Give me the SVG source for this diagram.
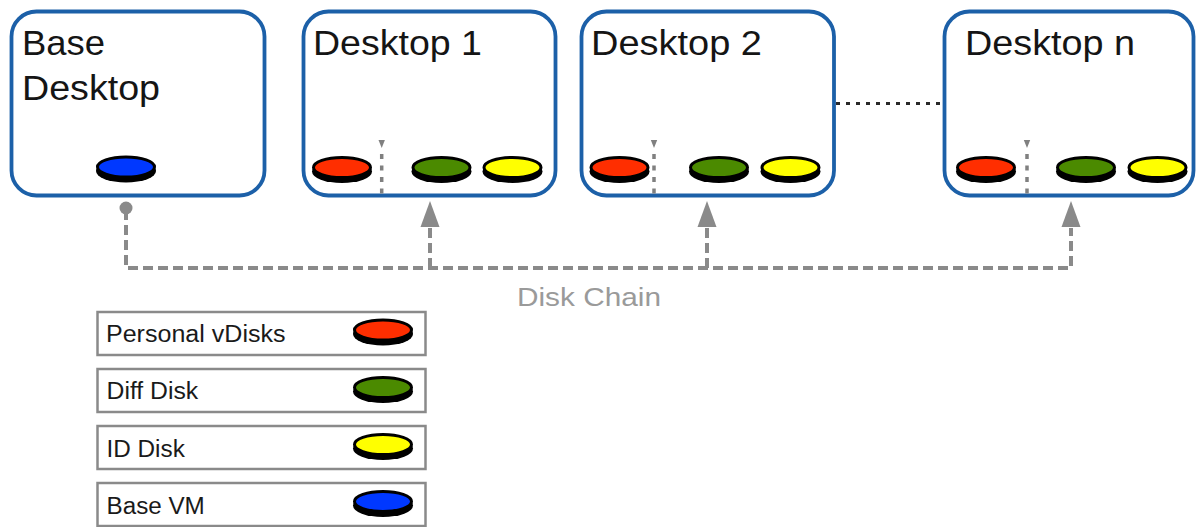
<svg xmlns="http://www.w3.org/2000/svg" xmlns:xlink="http://www.w3.org/1999/xlink" width="1197" height="527" viewBox="0 0 1197 527">
<style>
  .box { fill: #ffffff; stroke: #1c60a8; stroke-width: 3.8; }
  .title { font-family: "Liberation Sans", Arial, sans-serif; font-size: 34.5px; fill: #151515; }
  .legend-box { fill: #ffffff; stroke: #8a8a8a; stroke-width: 2.5; }
  .legend-text { font-family: "Liberation Sans", Arial, sans-serif; font-size: 23px; fill: #1a1a1a; }
  .chain-label { font-family: "Liberation Sans", Arial, sans-serif; font-size: 26px; fill: #9a9a9a; }
  .shadow { fill: #000000; }
  .disk { stroke: #000000; stroke-width: 3; }
  .red { fill: #ff2e00; }
  .green { fill: #4b8a00; }
  .yellow { fill: #ffff00; }
  .blue { fill: #0038ff; }
  .sep { stroke: #808080; stroke-width: 3.5; stroke-dasharray: 5 6.5; fill: none; }
  .chain { stroke: #8a8a8a; stroke-width: 4; stroke-dasharray: 10 5; fill: none; }
  .arrowhead { fill: #8a8a8a; }
  .dots { stroke: #2a2a2a; stroke-width: 3; stroke-dasharray: 4 6; fill: none; }
</style>
<defs>
  <g id="diskShape">
    <ellipse class="shadow" cx="0" cy="4" rx="30" ry="11.5"/>
  </g>
</defs>

<g id="connectors">
  <line class="dots" x1="836" y1="103.5" x2="943" y2="103.5"/>
  <circle cx="126" cy="208" r="6.5" fill="#8a8a8a"/>
  <path class="chain" d="M126 210 V268 H1071 V228"/>
  <line class="chain" x1="430" y1="268" x2="430" y2="228"/>
  <line class="chain" x1="707" y1="268" x2="707" y2="228"/>
  <polygon class="arrowhead" points="430,201 420.5,227 439.5,227"/>
  <polygon class="arrowhead" points="707,201 697.5,227 716.5,227"/>
  <polygon class="arrowhead" points="1071,201 1061.5,227 1080.5,227"/>
  <text class="chain-label" x="517" y="306" textLength="144" lengthAdjust="spacingAndGlyphs">Disk Chain</text>
</g>

<g id="base-desktop">
  <rect class="box" x="11.5" y="11.5" width="253" height="184" rx="25" ry="25"/>
  <text class="title" x="22" y="55" textLength="83" lengthAdjust="spacingAndGlyphs">Base</text>
  <text class="title" x="22" y="100" textLength="138" lengthAdjust="spacingAndGlyphs">Desktop</text>
  <use xlink:href="#diskShape" x="126" y="167"/>
  <ellipse class="disk blue" cx="126" cy="167" rx="28.5" ry="10"/>
</g>

<g id="desktop-1">
  <rect class="box" x="303.5" y="11.5" width="252" height="184" rx="25" ry="25"/>
  <text class="title" x="313" y="55" textLength="169" lengthAdjust="spacingAndGlyphs">Desktop 1</text>
  <use xlink:href="#diskShape" x="342" y="167.5"/>
  <ellipse class="disk red" cx="342" cy="167.5" rx="28.5" ry="10"/>
  <polygon points="378.5,140 384.9,140 381.7,148" fill="#808080"/>
  <line class="sep" x1="381.7" y1="154" x2="381.7" y2="196"/>
  <use xlink:href="#diskShape" x="441.5" y="167.5"/>
  <ellipse class="disk green" cx="441.5" cy="167.5" rx="28.5" ry="10"/>
  <use xlink:href="#diskShape" x="512.5" y="167.5"/>
  <ellipse class="disk yellow" cx="512.5" cy="167.5" rx="28.5" ry="10"/>
</g>

<g id="desktop-2">
  <rect class="box" x="581.5" y="11.5" width="252.5" height="184" rx="25" ry="25"/>
  <text class="title" x="591" y="55" textLength="171" lengthAdjust="spacingAndGlyphs">Desktop 2</text>
  <use xlink:href="#diskShape" x="619.5" y="167.5"/>
  <ellipse class="disk red" cx="619.5" cy="167.5" rx="28.5" ry="10"/>
  <polygon points="650.8,140 657.2,140 654,148" fill="#808080"/>
  <line class="sep" x1="654" y1="154" x2="654" y2="196"/>
  <use xlink:href="#diskShape" x="719" y="167.5"/>
  <ellipse class="disk green" cx="719" cy="167.5" rx="28.5" ry="10"/>
  <use xlink:href="#diskShape" x="790.5" y="167.5"/>
  <ellipse class="disk yellow" cx="790.5" cy="167.5" rx="28.5" ry="10"/>
</g>

<g id="desktop-n">
  <rect class="box" x="944.5" y="11.5" width="249" height="184" rx="25" ry="25"/>
  <text class="title" x="965" y="55" textLength="170" lengthAdjust="spacingAndGlyphs">Desktop n</text>
  <use xlink:href="#diskShape" x="986" y="167.5"/>
  <ellipse class="disk red" cx="986" cy="167.5" rx="28.5" ry="10"/>
  <polygon points="1023.8,140 1030.2,140 1027,148" fill="#808080"/>
  <line class="sep" x1="1027" y1="154" x2="1027" y2="196"/>
  <use xlink:href="#diskShape" x="1086" y="167.5"/>
  <ellipse class="disk green" cx="1086" cy="167.5" rx="28.5" ry="10"/>
  <use xlink:href="#diskShape" x="1157.5" y="167.5"/>
  <ellipse class="disk yellow" cx="1157.5" cy="167.5" rx="28.5" ry="10"/>
</g>

<g id="legend-personal-vdisks">
  <rect class="legend-box" x="97.5" y="312" width="328" height="43"/>
  <text class="legend-text" x="106" y="341.7" textLength="179.5" lengthAdjust="spacingAndGlyphs">Personal vDisks</text>
  <use xlink:href="#diskShape" x="383" y="330"/>
  <ellipse class="disk red" cx="383" cy="330" rx="28.5" ry="10"/>
</g>
<g id="legend-diff-disk">
  <rect class="legend-box" x="97.5" y="369" width="328" height="43"/>
  <text class="legend-text" x="106.5" y="399.3" textLength="91.7" lengthAdjust="spacingAndGlyphs">Diff Disk</text>
  <use xlink:href="#diskShape" x="383" y="387.5"/>
  <ellipse class="disk green" cx="383" cy="387.5" rx="28.5" ry="10"/>
</g>
<g id="legend-id-disk">
  <rect class="legend-box" x="97.5" y="426" width="328" height="43"/>
  <text class="legend-text" x="106.5" y="456.7" textLength="78.3" lengthAdjust="spacingAndGlyphs">ID Disk</text>
  <use xlink:href="#diskShape" x="383" y="444.5"/>
  <ellipse class="disk yellow" cx="383" cy="444.5" rx="28.5" ry="10"/>
</g>
<g id="legend-base-vm">
  <rect class="legend-box" x="97.5" y="483" width="328" height="43"/>
  <text class="legend-text" x="106.5" y="514" textLength="98.3" lengthAdjust="spacingAndGlyphs">Base VM</text>
  <use xlink:href="#diskShape" x="383" y="501.5"/>
  <ellipse class="disk blue" cx="383" cy="501.5" rx="28.5" ry="10"/>
</g>
</svg>
